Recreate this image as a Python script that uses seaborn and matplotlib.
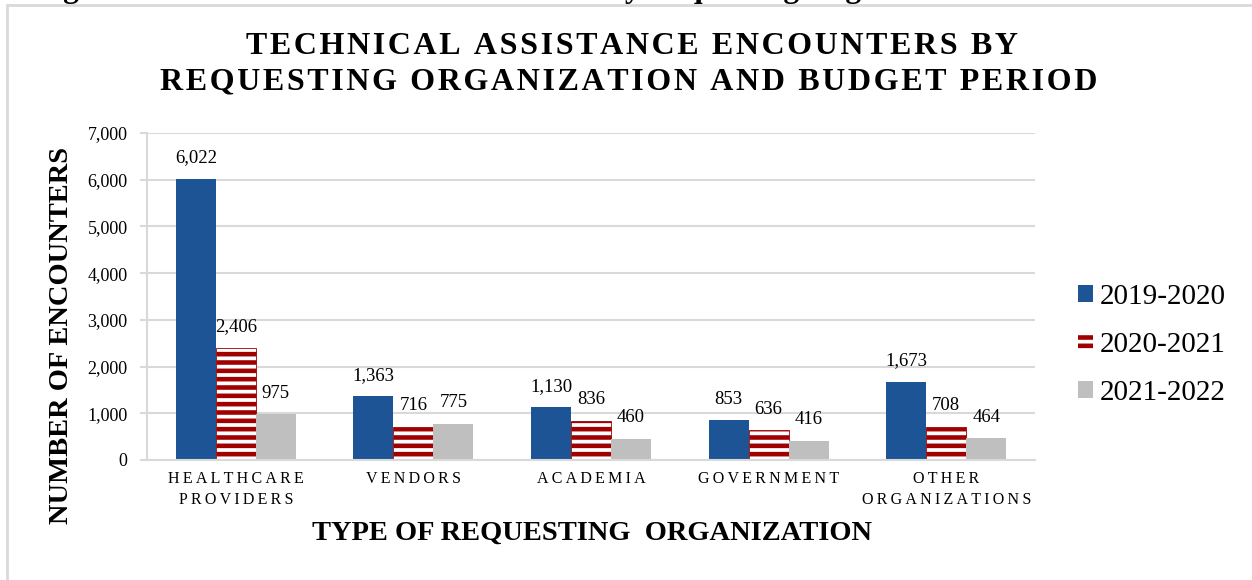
import matplotlib
matplotlib.use("Agg")
import matplotlib.pyplot as plt
import matplotlib.patches as mpatches
from matplotlib.lines import Line2D
from matplotlib.ticker import FuncFormatter
import seaborn as sns
import pandas as pd

# ---- data -------------------------------------------------------------
organizations = ["HEALTHCARE\nPROVIDERS", "VENDORS", "ACADEMIA", "GOVERNMENT",
                 "OTHER\nORGANIZATIONS"]
periods = ["2019-2020", "2020-2021", "2021-2022"]
enc_2019_2020 = [6022, 1363, 1130, 853, 1673]
enc_2020_2021 = [2406, 716, 836, 636, 708]
enc_2021_2022 = [975, 775, 460, 416, 464]
y_ticks = [0, 1000, 2000, 3000, 4000, 5000, 6000, 7000]

colors = ["#1C5496", "#A00000", "#BFBFBF"]
GRID = "#D9D9D9"
INK = "#000000"
SERIF = "Liberation Serif"


def spaced(text, sep="\u2009"):
    """Letter-spaced version of a (possibly multi-line) label."""
    return "\n".join(sep.join(line) for line in text.split("\n"))


df = pd.DataFrame({
    "org": organizations * 3,
    "period": [p for p in periods for _ in organizations],
    "encounters": enc_2019_2020 + enc_2020_2021 + enc_2021_2022,
})

sns.set_theme(style="white")
plt.rcParams["font.family"] = [SERIF, "DejaVu Sans"]
plt.rcParams["hatch.linewidth"] = 3.3
plt.rcParams["text.color"] = INK

W, H = 1252, 580
fig = plt.figure(figsize=(W / 100, H / 100), dpi=100)
ax = fig.add_axes([147 / W, 120 / H, 888 / W, 327 / H])

sns.barplot(data=df, x="org", y="encounters", hue="period", order=organizations,
            hue_order=periods, palette=colors, saturation=1, width=0.675,
            gap=0, legend=False, ax=ax, linewidth=0)

# striped middle series
for bar in ax.containers[1]:
    bar.set_facecolor("white")
    bar.set_edgecolor(colors[1])
    bar.set_hatch("--")
    bar.set_linewidth(0.6)

for cont in ax.containers:
    ax.bar_label(cont, labels=[f"{v:,.0f}" for v in cont.datavalues],
                 padding=9, fontsize=13.5, color=INK, family=SERIF)

# ---- axes styling -----------------------------------------------------
ax.set_xlim(-0.5, len(organizations) - 0.5)
ax.set_ylim(0, 7000)
ax.set_yticks(y_ticks)
ax.yaxis.set_major_formatter(FuncFormatter(lambda v, _: f"{v:,.0f}"))
ax.set_xticks(range(len(organizations)))
ax.set_xticklabels([spaced(o) for o in organizations], fontsize=11.5,
                   linespacing=1.4, family=SERIF)
ax.tick_params(axis="y", labelsize=13, length=5, color=GRID, width=1.5, pad=9,
               left=True, labelcolor=INK)
ax.tick_params(axis="x", length=0, pad=8, labelcolor=INK)
for lab in ax.get_yticklabels():
    lab.set_family(SERIF)
ax.grid(axis="y", color=GRID, linewidth=1.5)
ax.set_axisbelow(True)
for side in ["top", "right"]:
    ax.spines[side].set_visible(False)
for side in ["left", "bottom"]:
    ax.spines[side].set_color(GRID)
    ax.spines[side].set_linewidth(1.5)
ax.set_xlabel("")
ax.set_ylabel("")

# ---- titles -----------------------------------------------------------
title_kw = dict(ha="center", va="center", fontsize=23, fontweight="bold",
                family=SERIF, color=INK)
fig.text(632 / W, 1 - 46 / H, spaced("TECHNICAL ASSISTANCE ENCOUNTERS BY", "\u200a"),
         **title_kw)
fig.text(629 / W, 1 - 82 / H,
         spaced("REQUESTING ORGANIZATION AND BUDGET PERIOD", "\u200a"), **title_kw)
fig.text(592 / W, 1 - 533 / H, "TYPE OF REQUESTING  ORGANIZATION",
         ha="center", va="center", fontsize=20.5, fontweight="bold", family=SERIF,
         color=INK)
fig.text(62 / W, 1 - 335 / H, "NUMBER OF ENCOUNTERS", rotation=90,
         ha="center", va="center", fontsize=20.5, fontweight="bold", family=SERIF,
         color=INK)

# caption running off the top edge
fig.text(35 / W, 1 + 3 / H,
         "Figure 4. Technical Assistance Encounters by Requesting Organization",
         ha="left", va="baseline", fontsize=22.7, fontweight="bold", family=SERIF,
         color=INK)

# ---- legend -----------------------------------------------------------
handles = [
    mpatches.Patch(facecolor=colors[0], edgecolor="none"),
    mpatches.Patch(facecolor="white", edgecolor=colors[1], hatch="--", linewidth=0),
    mpatches.Patch(facecolor=colors[2], edgecolor="none"),
]
leg = fig.legend(handles, periods, loc="upper left",
                 bbox_to_anchor=(1078 / W, 1 - 284 / H), frameon=False,
                 prop={"family": SERIF, "size": 21}, handlelength=0.52,
                 handleheight=0.52, handletextpad=0.22, labelspacing=0.76,
                 borderpad=0, borderaxespad=0)
for t in leg.get_texts():
    t.set_color(INK)

# ---- outer frame ------------------------------------------------------
fig.add_artist(Line2D([7 / W, 7 / W], [0, 1 - 5 / H], transform=fig.transFigure,
                      color=GRID, linewidth=2))
fig.add_artist(Line2D([7 / W, 1], [1 - 5 / H, 1 - 5 / H], transform=fig.transFigure,
                      color=GRID, linewidth=2))

fig.savefig("out.png", dpi=100)
